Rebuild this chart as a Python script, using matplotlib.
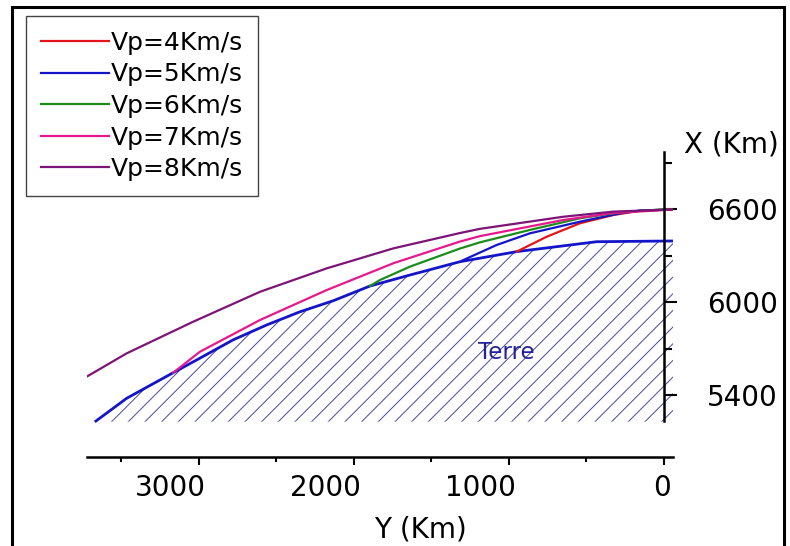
import matplotlib
matplotlib.use('Agg')
import matplotlib.pyplot as plt
import matplotlib.transforms as mtransforms
from matplotlib.patches import Rectangle

# values: Y (Km) horizontal, X (Km) vertical
earth_y = [3665, 3466, 3166, 3015, 2781, 2563, 2348, 2134, 1897, 1639, 1316, 950, 434, -82]
earth_x = [5232, 5379, 5544, 5626, 5755, 5852, 5937, 6008, 6103, 6174, 6260, 6325, 6389, 6394]
earth_bottom = 5228

vp4_y = [950, 757, 542, 327, 155, -80]
vp4_x = [6325, 6421, 6508, 6561, 6589, 6598]

vp5_y = [1300, 1079, 865, 542, 284, 155, -80]
vp5_x = [6268, 6368, 6443, 6518, 6572, 6590, 6598]

vp6_y = [1897, 1832, 1639, 1316, 1187, 865, 542, 284, 0, -80]
vp6_x = [6103, 6142, 6228, 6345, 6385, 6465, 6540, 6579, 6598, 6598]

vp7_y = [3166, 2994, 2606, 2176, 1746, 1316, 1187, 650, 329, -80]
vp7_x = [5544, 5679, 5884, 6077, 6250, 6390, 6425, 6529, 6574, 6598]

vp8_y = [3725, 3466, 3037, 2606, 2176, 1746, 1316, 1187, 650, 329, -80]
vp8_x = [5518, 5669, 5873, 6066, 6217, 6346, 6445, 6472, 6550, 6583, 6598]

labels = ['Vp=4Km/s', 'Vp=5Km/s', 'Vp=6Km/s', 'Vp=7Km/s', 'Vp=8Km/s']
colors = ['#e3141c', '#1414c8', '#1c8c1c', '#e6198c', '#7d1478']

plt.rcParams['font.family'] = ['DejaVu Sans']
plt.rcParams['hatch.linewidth'] = 0.7

fig = plt.figure(figsize=(7.9, 5.46), dpi=100)
ax = fig.add_axes([0.1106, 0.163, 0.7416, 0.8187])
ax.set_xlim(3720, -60)
ax.set_ylim(5000, 7884)

# Earth (hatched)
ax.fill_between(earth_y, earth_x, earth_bottom, facecolor='none',
                edgecolor='#4848a0', linewidth=0, hatch='//')
ax.plot(earth_y, earth_x, color='#1414c8', lw=2)

rays = [(vp4_y, vp4_x), (vp5_y, vp5_x), (vp6_y, vp6_x), (vp7_y, vp7_x), (vp8_y, vp8_x)]
for (ry, rx), c, lab in zip(rays, colors, labels):
    ax.plot(ry, rx, color=c, lw=1.6, label=lab)

ax.text(1019, 5677, 'Terre', color='#22229a', fontsize=16.5, ha='center', va='center')

# axes styling
ax.spines['top'].set_visible(False)
ax.spines['left'].set_visible(False)
ax.spines['right'].set_position(('data', 0))
ax.spines['right'].set_bounds(5232, 6970)
ax.spines['right'].set_linewidth(1.8)
ax.spines['bottom'].set_linewidth(1.8)
ax.yaxis.set_ticks_position('right')
ax.yaxis.set_label_position('right')
ax.xaxis.set_ticks_position('bottom')

ax.set_xticks([3000, 2000, 1000, 0])
ax.set_xticks([3500, 2500, 1500, 500], minor=True)
ax.set_yticks([5400, 6000, 6600])
ax.set_yticks([5700, 6300, 6900], minor=True)
ax.tick_params(axis='x', which='major', direction='out', length=6, width=1.5, labelsize=20, pad=6)
ax.tick_params(axis='x', which='minor', direction='out', length=3.5, width=1.5)
ax.tick_params(axis='y', which='major', direction='out', length=9, width=1.5, labelsize=20, pad=22)
ax.tick_params(axis='y', which='minor', direction='out', length=6, width=1.5)

offset = mtransforms.ScaledTranslation(7 / 100, 0, fig.dpi_scale_trans)
for lab in ax.get_xticklabels():
    lab.set_ha('right')
    lab.set_transform(lab.get_transform() + offset)

ax.set_xlabel('Y (Km)', fontsize=20, va='center')
ax.xaxis.set_label_coords(0.568, -0.163)
ax.set_ylabel('X (Km)', fontsize=20, rotation=0, ha='center', va='center')
ax.yaxis.set_label_coords(1.100, 0.700)

ax.legend(loc='upper left', bbox_to_anchor=(26 / 790, 1 - 16 / 546),
          bbox_transform=fig.transFigure, fontsize=18, handlelength=2.7,
          handletextpad=0.1, labelspacing=0.3, borderpad=0.6, borderaxespad=0,
          fancybox=False, edgecolor='#444444', framealpha=1)

# outer frame
fig.add_artist(Rectangle((12 / 790, -0.02), (784 - 12) / 790, 1 - 7 / 546 + 0.02,
                         transform=fig.transFigure, fill=False, edgecolor='black', linewidth=2.2))

fig.savefig('out.png', dpi=100)
